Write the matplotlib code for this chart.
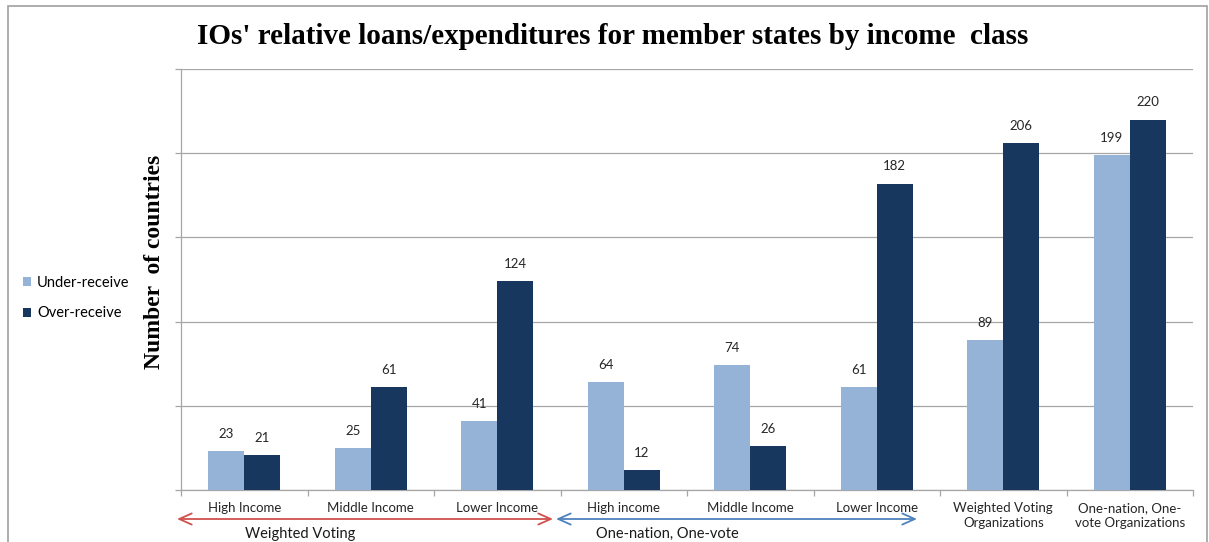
import matplotlib
matplotlib.use("Agg")
import matplotlib.pyplot as plt
from matplotlib.patches import Rectangle
import numpy as np

categories = ["High Income", "Middle Income", "Lower Income",
              "High income", "Middle Income", "Lower Income",
              "Weighted Voting\nOrganizations", "One-nation, One-\nvote Organizations"]
under_receive = [23, 25, 41, 64, 74, 61, 89, 199]
over_receive = [21, 61, 124, 12, 26, 182, 206, 220]
group_labels = ["Weighted Voting", "One-nation, One-vote"]

LIGHT = "#95B3D7"
DARK = "#17375E"
GRID = "#A6A6A6"
SANS = ["Lato", "DejaVu Sans"]
SERIF = ["Liberation Serif", "DejaVu Serif"]

fig = plt.figure(figsize=(12.09, 5.42), dpi=100)
ax = fig.add_axes([181 / 1209, 1 - 490 / 542, 1012 / 1209, 421 / 542])

x = np.arange(len(categories))
w = 0.285
b1 = ax.bar(x - w / 2, under_receive, w, color=LIGHT, label="Under-receive", zorder=3)
b2 = ax.bar(x + w / 2, over_receive, w, color=DARK, label="Over-receive", zorder=3)

for bars, vals in ((b1, under_receive), (b2, over_receive)):
    for r, v in zip(bars, vals):
        ax.annotate(str(v), (r.get_x() + r.get_width() / 2, v),
                    xytext=(0, 8), textcoords="offset points",
                    ha="center", va="bottom", fontsize=9.5,
                    family=SANS, color="#262626")

ax.set_xlim(-0.5, len(categories) - 0.5)
ax.set_ylim(0, 250)
ax.set_yticks(np.arange(0, 251, 50))
ax.set_yticklabels([])
ax.yaxis.grid(True, color=GRID, linewidth=0.9, zorder=0)
ax.tick_params(axis="y", length=4, color=GRID, width=0.9)

ax.set_xticks(np.arange(-0.5, len(categories), 1.0))
ax.set_xticklabels([])
ax.set_xticks(x, minor=True)
ax.set_xticklabels(categories, minor=True, fontsize=9.5, family=SANS, color="#262626",
                   linespacing=1.25)
ax.tick_params(axis="x", which="major", length=4, color=GRID, width=0.9)
ax.tick_params(axis="x", which="minor", length=0, pad=9)

for s in ("top", "right"):
    ax.spines[s].set_visible(False)
for s in ("left", "bottom"):
    ax.spines[s].set_color(GRID)
    ax.spines[s].set_linewidth(0.9)

ax.set_ylabel("Number  of countries", fontsize=17, fontweight="bold", family=SERIF)
ax.yaxis.set_label_coords((165 - 181) / 1012, (490 - 262) / 421)

fig.text(0.5 * (195 + 1030) / 1209, 1 - 37 / 542,
         "IOs' relative loans/expenditures for member states by income  class",
         ha="center", va="center", fontsize=21, fontweight="bold", family=SERIF)

leg = fig.legend(handles=[b1, b2], loc="center left",
                 bbox_to_anchor=(10 / 1209, 1 - 298 / 542),
                 frameon=False, prop={"family": SANS, "size": 10.5},
                 handlelength=0.55, handleheight=0.55, handletextpad=0.4,
                 labelspacing=1.15)

# Group brackets under the category labels
ya = (490 - 519) / 421
yt = (490 - 534) / 421
ax.annotate("", xy=((177 - 181) / 1012, ya), xytext=((553 - 181) / 1012, ya),
            xycoords="axes fraction", textcoords="axes fraction",
            arrowprops=dict(arrowstyle="<->,head_length=0.9,head_width=0.4",
                            color="#D0504D", lw=1.3, shrinkA=0, shrinkB=0),
            annotation_clip=False)
ax.annotate("", xy=((556 - 181) / 1012, ya), xytext=((917 - 181) / 1012, ya),
            xycoords="axes fraction", textcoords="axes fraction",
            arrowprops=dict(arrowstyle="<->,head_length=0.9,head_width=0.4",
                            color="#4F81BD", lw=1.3, shrinkA=0, shrinkB=0),
            annotation_clip=False)
ax.text((300 - 181) / 1012, yt, group_labels[0], transform=ax.transAxes,
        ha="center", va="center", fontsize=10.5, family=SANS, color="#1a1a1a")
ax.text((667 - 181) / 1012, yt, group_labels[1], transform=ax.transAxes,
        ha="center", va="center", fontsize=10.5, family=SANS, color="#1a1a1a")

# Outer chart frame
fig.patches.append(Rectangle((8 / 1209, -0.05), (1207 - 8) / 1209, 1.05 - 6 / 542,
                             transform=fig.transFigure, fill=False,
                             edgecolor="#A0A0A0", linewidth=1.2, clip_on=False))

fig.savefig("out.png", dpi=100, facecolor="white")
